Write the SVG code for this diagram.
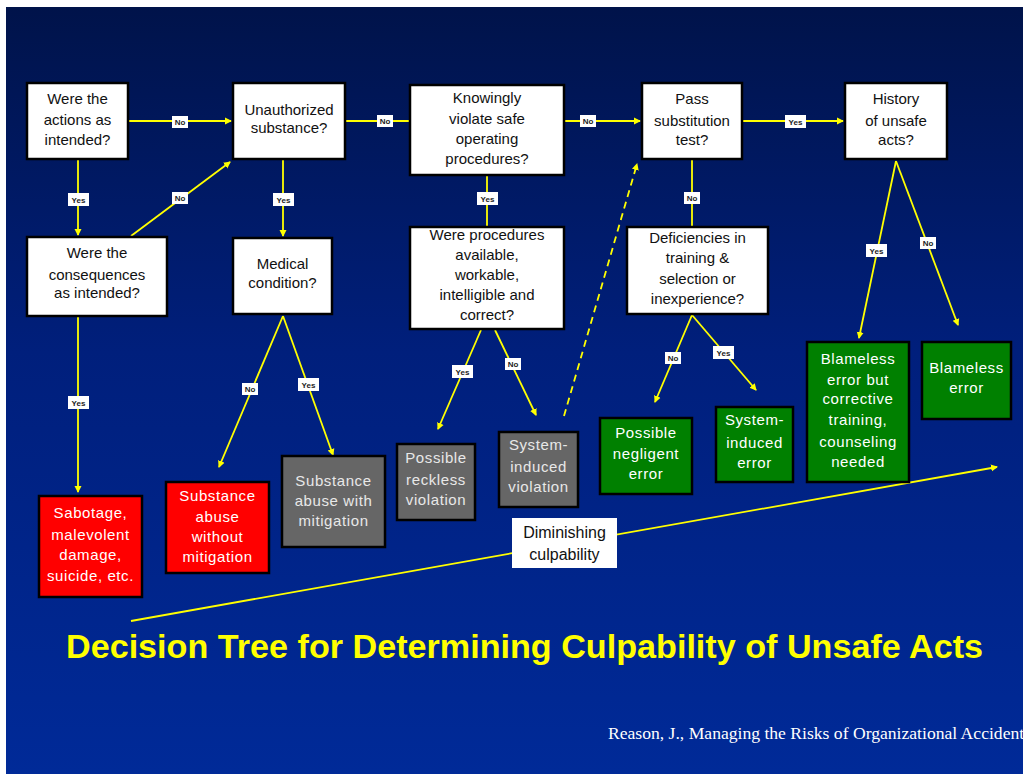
<svg xmlns="http://www.w3.org/2000/svg" width="1023" height="774" viewBox="0 0 1023 774">
<defs>
<linearGradient id="bg" x1="0" y1="0" x2="0" y2="1">
<stop offset="0" stop-color="#00134a"/>
<stop offset="0.45" stop-color="#001f7c"/>
<stop offset="1" stop-color="#002a98"/>
</linearGradient>
<marker id="ah" markerWidth="8" markerHeight="8" refX="6" refY="4" orient="auto" markerUnits="userSpaceOnUse">
<path d="M0,0.5 L7,4 L0,7.5 Z" fill="#ffff00"/>
</marker>
<style>
.q rect{fill:#ffffff;stroke:#000;stroke-width:2.5}
.q text{font-family:"Liberation Sans",Arial,sans-serif;font-size:15px;fill:#111;text-anchor:middle}
.red rect{fill:#ff0000;stroke:#000;stroke-width:2.5}
.gray rect{fill:#666666;stroke:#000;stroke-width:2.5}
.green rect{fill:#008000;stroke:#000;stroke-width:2.5}
.r text{font-family:"Liberation Sans",Arial,sans-serif;font-size:15px;fill:#ffffff;text-anchor:middle;letter-spacing:0.6px}
.gray text{fill:#e8e8e8}
.c line,.c path{stroke:#ffff00;stroke-width:1.8;fill:none}
.c .d{stroke-dasharray:7,5}
.lb rect{fill:#ffffff}
.lb text{font-family:"Liberation Sans",Arial,sans-serif;font-size:8px;font-weight:bold;fill:#222;text-anchor:middle}
</style>
</defs>
<rect x="0" y="0" width="1023" height="774" fill="#ffffff"/>
<rect x="6" y="7" width="1017" height="767" fill="url(#bg)"/>

<g id="connectors" class="c">
<line x1="128" y1="121" x2="231" y2="121" marker-end="url(#ah)"/>
<line x1="345" y1="121" x2="410" y2="121"/>
<line x1="564" y1="121" x2="640" y2="121" marker-end="url(#ah)"/>
<line x1="742" y1="121" x2="843" y2="121" marker-end="url(#ah)"/>
<line x1="78" y1="159" x2="78" y2="235" marker-end="url(#ah)"/>
<line x1="131" y1="236" x2="230" y2="162" marker-end="url(#ah)"/>
<line x1="283" y1="159" x2="283" y2="236" marker-end="url(#ah)"/>
<line x1="487" y1="175" x2="487" y2="227"/>
<line x1="692" y1="159" x2="692" y2="227"/>
<line x1="896" y1="161" x2="859" y2="338" marker-end="url(#ah)"/>
<line x1="896" y1="161" x2="958" y2="325" marker-end="url(#ah)"/>
<line x1="78" y1="316" x2="78" y2="492" marker-end="url(#ah)"/>
<line x1="283" y1="316" x2="219" y2="467" marker-end="url(#ah)"/>
<line x1="283" y1="316" x2="333" y2="455" marker-end="url(#ah)"/>
<line x1="481" y1="330" x2="438" y2="429" marker-end="url(#ah)"/>
<line x1="495" y1="330" x2="536" y2="415" marker-end="url(#ah)"/>
<line class="d" x1="564" y1="416" x2="637" y2="164" marker-end="url(#ah)"/>
<line x1="692" y1="315" x2="655" y2="402" marker-end="url(#ah)"/>
<line x1="692" y1="315" x2="756" y2="390" marker-end="url(#ah)"/>
<line x1="131" y1="621" x2="997" y2="467" marker-end="url(#ah)"/>
</g>

<g id="labels" class="lb">
<rect x="172" y="116" width="16" height="12"/><text x="180" y="125">No</text>
<rect x="377" y="115" width="16" height="12"/><text x="385" y="124">No</text>
<rect x="580" y="115" width="16" height="12"/><text x="588" y="124">No</text>
<rect x="785" y="115" width="21" height="13"/><text x="795.5" y="124.5">Yes</text>
<rect x="68" y="193" width="21" height="13"/><text x="78.5" y="202.5">Yes</text>
<rect x="172" y="192" width="16" height="12"/><text x="180" y="201">No</text>
<rect x="273" y="193" width="21" height="13"/><text x="283.5" y="202.5">Yes</text>
<rect x="477" y="192" width="21" height="13"/><text x="487.5" y="201.5">Yes</text>
<rect x="684" y="192" width="16" height="12"/><text x="692" y="201">No</text>
<rect x="866" y="244" width="21" height="13"/><text x="876.5" y="253.5">Yes</text>
<rect x="920" y="237" width="16" height="12"/><text x="928" y="246">No</text>
<rect x="68" y="396" width="21" height="13"/><text x="78.5" y="405.5">Yes</text>
<rect x="242" y="383" width="16" height="12"/><text x="250" y="392">No</text>
<rect x="298" y="378" width="21" height="13"/><text x="308.5" y="387.5">Yes</text>
<rect x="452" y="365" width="21" height="13"/><text x="462.5" y="374.5">Yes</text>
<rect x="505" y="358" width="16" height="12"/><text x="513" y="367">No</text>
<rect x="665" y="352" width="16" height="12"/><text x="673" y="361">No</text>
<rect x="713" y="346" width="21" height="13"/><text x="723.5" y="355.5">Yes</text>
</g>

<g id="n1" class="q"><rect x="27" y="83" width="101" height="76"/>
<text x="77.5" y="104">Were the</text><text x="77.5" y="125">actions as</text><text x="77.5" y="145">intended?</text></g>
<g id="n2" class="q"><rect x="233" y="83" width="112" height="76"/>
<text x="289" y="115">Unauthorized</text><text x="289" y="133">substance?</text></g>
<g id="n3" class="q"><rect x="27" y="237" width="140" height="79"/>
<text x="97" y="258">Were the</text><text x="97" y="280">consequences</text><text x="97" y="298">as intended?</text></g>
<g id="n4" class="q"><rect x="233" y="238" width="99" height="76"/>
<text x="282.5" y="269">Medical</text><text x="282.5" y="288">condition?</text></g>
<g id="n5" class="q"><rect x="410" y="85" width="154" height="90"/>
<text x="487" y="103">Knowingly</text><text x="487" y="124">violate safe</text><text x="487" y="144">operating</text><text x="487" y="164">procedures?</text></g>
<g id="n6" class="q"><rect x="410" y="227" width="154" height="102"/>
<text x="487" y="240">Were procedures</text><text x="487" y="260">available,</text><text x="487" y="280">workable,</text><text x="487" y="300">intelligible and</text><text x="487" y="320">correct?</text></g>
<g id="n7" class="q"><rect x="642" y="83" width="100" height="76"/>
<text x="692" y="104">Pass</text><text x="692" y="126">substitution</text><text x="692" y="145">test?</text></g>
<g id="n8" class="q"><rect x="627" y="227" width="141" height="87"/>
<text x="697.5" y="243">Deficiencies in</text><text x="697.5" y="263">training &amp;</text><text x="697.5" y="284">selection or</text><text x="697.5" y="304">inexperience?</text></g>
<g id="n9" class="q"><rect x="845" y="83" width="102" height="76"/>
<text x="896" y="104">History</text><text x="896" y="126">of unsafe</text><text x="896" y="145">acts?</text></g>

<g id="r1" class="r red"><rect x="39" y="496" width="103" height="101"/>
<text x="90.5" y="518">Sabotage,</text><text x="90.5" y="540">malevolent</text><text x="90.5" y="560">damage,</text><text x="90.5" y="581">suicide, etc.</text></g>
<g id="r2" class="r red"><rect x="166" y="482" width="103" height="91"/>
<text x="217.5" y="501">Substance</text><text x="217.5" y="522">abuse</text><text x="217.5" y="542">without</text><text x="217.5" y="562">mitigation</text></g>
<g id="r3" class="r gray"><rect x="282" y="456" width="103" height="91"/>
<text x="333.5" y="486">Substance</text><text x="333.5" y="506">abuse with</text><text x="333.5" y="526">mitigation</text></g>
<g id="r4" class="r gray"><rect x="397" y="444" width="78" height="76"/>
<text x="436" y="463">Possible</text><text x="436" y="485">reckless</text><text x="436" y="505">violation</text></g>
<g id="r5" class="r gray"><rect x="499" y="432" width="79" height="75"/>
<text x="538.5" y="450">System-</text><text x="538.5" y="472">induced</text><text x="538.5" y="492">violation</text></g>
<g id="r6" class="r green"><rect x="600" y="418" width="92" height="76"/>
<text x="646" y="438">Possible</text><text x="646" y="459">negligent</text><text x="646" y="479">error</text></g>
<g id="r7" class="r green"><rect x="716" y="407" width="77" height="75"/>
<text x="754.5" y="425">System-</text><text x="754.5" y="448">induced</text><text x="754.5" y="468">error</text></g>
<g id="r8" class="r green"><rect x="807" y="342" width="102" height="140"/>
<text x="858" y="364">Blameless</text><text x="858" y="385">error but</text><text x="858" y="404">corrective</text><text x="858" y="425">training,</text><text x="858" y="447">counseling</text><text x="858" y="467">needed</text></g>
<g id="r9" class="r green"><rect x="922" y="342" width="89" height="77"/>
<text x="966.5" y="373">Blameless</text><text x="966.5" y="393">error</text></g>

<g id="dim">
<rect x="512" y="518" width="105" height="50" fill="#ffffff"/>
<text x="564.5" y="538" font-family="Liberation Sans, Arial, sans-serif" font-size="16" fill="#111" text-anchor="middle">Diminishing</text>
<text x="564.5" y="560" font-family="Liberation Sans, Arial, sans-serif" font-size="16" fill="#111" text-anchor="middle">culpability</text>
</g>

<text x="66" y="658" font-family="Liberation Sans, Arial, sans-serif" font-size="34" font-weight="bold" fill="#ffff00" textLength="917" lengthAdjust="spacingAndGlyphs">Decision Tree for Determining Culpability of Unsafe Acts</text>
<text x="608" y="739" font-family="Liberation Serif, Times New Roman, serif" font-size="16" fill="#ffffff" textLength="423" lengthAdjust="spacingAndGlyphs">Reason, J., Managing the Risks of Organizational Accidents</text>
</svg>
